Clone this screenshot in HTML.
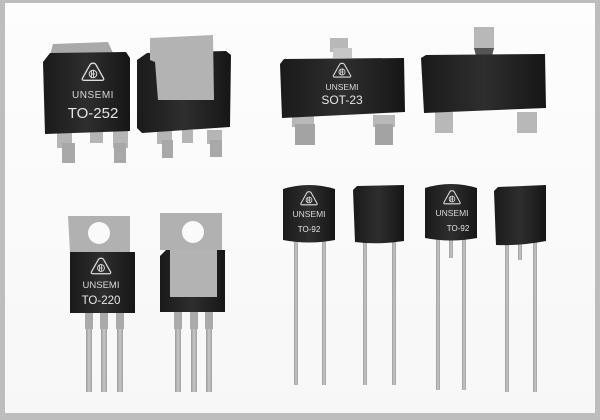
<!DOCTYPE html>
<html><head><meta charset="utf-8"><style>
html,body{margin:0;padding:0;background:#bdbdbd}
svg{display:block}
</style></head><body>
<svg width="600" height="420" viewBox="0 0 600 420" xmlns="http://www.w3.org/2000/svg" font-family="Liberation Sans, sans-serif">
<defs>
<linearGradient id="bg" x1="0" y1="0" x2="0" y2="1"><stop offset="0" stop-color="#fdfdfd"/><stop offset="1" stop-color="#f7f7f7"/></linearGradient>
<linearGradient id="blk" x1="0" y1="0" x2="1" y2="0"><stop offset="0" stop-color="#1a1a1a"/><stop offset="0.5" stop-color="#2e2e2e"/><stop offset="1" stop-color="#161616"/></linearGradient>
<linearGradient id="lead" x1="0" y1="0" x2="1" y2="0"><stop offset="0" stop-color="#9a9a9a"/><stop offset="0.5" stop-color="#c8c8c8"/><stop offset="1" stop-color="#a0a0a0"/></linearGradient>
<g id="logo">
<path d="M0,-10 Q1.5,-11 3,-8.5 L10,4 Q11,6 8.5,6 L-8.5,6 Q-11,6 -10,4 L-3,-8.5 Q-1.5,-11 0,-10Z" fill="none" stroke="#ddd" stroke-width="1.3"/>
<circle cx="0" cy="0" r="3.6" fill="none" stroke="#ddd" stroke-width="1"/>
<path d="M-1.5,-3.5 V3 M-1.5,0 H2 M0.5,-4 V3" stroke="#ddd" stroke-width="0.9"/>
</g>
</defs>
<rect x="5" y="3" width="590" height="410" fill="url(#bg)"/>

<!-- TO-252 front -->
<path d="M50,55 L53,44 L108,42 L113,53 Z" fill="#a9a9a9"/>
<rect x="57" y="130" width="15" height="18" fill="#b5b5b5"/>
<rect x="62" y="143" width="13" height="20" fill="#a8a8a8"/>
<rect x="90" y="130" width="13" height="13" fill="#b5b5b5"/>
<rect x="113" y="130" width="15" height="18" fill="#b5b5b5"/>
<rect x="114" y="143" width="12" height="20" fill="#a8a8a8"/>
<path d="M43,62 L50,53 L126,52 L130,58 L130,131 L45,134 Z" fill="url(#blk)"/>
<use href="#logo" transform="translate(93,74) scale(1.05)"/>
<text x="93" y="98" font-size="10" fill="#d8d8d8" text-anchor="middle" letter-spacing="0.5">UNSEMI</text>
<text x="93" y="118" font-size="15" fill="#e6e6e6" text-anchor="middle">TO-252</text>

<!-- TO-252 back -->
<rect x="157" y="130" width="15" height="14" fill="#b5b5b5"/>
<rect x="162" y="140" width="11" height="18" fill="#a8a8a8"/>
<rect x="182" y="130" width="11" height="13" fill="#b5b5b5"/>
<rect x="207" y="130" width="15" height="14" fill="#b5b5b5"/>
<rect x="210" y="140" width="12" height="17" fill="#a8a8a8"/>
<path d="M137,60 L147,53 L226,51 L231,55 L230,127 L142,133 L137,128 Z" fill="url(#blk)"/>
<path d="M150,38 L213,35 L214,100 L158,100 L155,62 L150,60 Z" fill="#b3b3b3"/>

<!-- SOT-23 front -->
<rect x="330" y="38" width="18" height="14" fill="#b8b8b8"/>
<rect x="333" y="48" width="19" height="10" fill="#c6c6c6"/>
<rect x="292" y="115" width="22" height="12" fill="#b8b8b8"/>
<rect x="295" y="124" width="20" height="21" fill="#a3a3a3"/>
<rect x="373" y="115" width="22" height="12" fill="#b8b8b8"/>
<rect x="375" y="124" width="18" height="21" fill="#a3a3a3"/>
<path d="M280,64 L284,59 L404,58 L405,112 L282,118 Z" fill="url(#blk)"/>
<use href="#logo" transform="translate(342,72) scale(0.85)"/>
<text x="342" y="90" font-size="8.5" fill="#d8d8d8" text-anchor="middle">UNSEMI</text>
<text x="342" y="104" font-size="12" fill="#e6e6e6" text-anchor="middle">SOT-23</text>

<!-- SOT-23 back -->
<rect x="474" y="27" width="20" height="22" fill="#b8b8b8"/>
<path d="M474,48 L494,48 L492,56 L476,56Z" fill="#555"/>
<rect x="435" y="112" width="18" height="21" fill="#b8b8b8"/>
<rect x="517" y="112" width="20" height="21" fill="#b8b8b8"/>
<path d="M421,58 L426,55 L545,54 L546,108 L424,113 Z" fill="url(#blk)"/>

<!-- TO-220 front -->
<path d="M68,216 L130,216 L130,252 L70,252 Z" fill="#b1b1b1"/>
<circle cx="99" cy="233" r="11" fill="#fafafa"/>
<rect x="85" y="305" width="8" height="24" fill="#aaa"/>
<rect x="86" y="329" width="6" height="63" fill="url(#lead)"/>
<rect x="100" y="305" width="8" height="24" fill="#aaa"/>
<rect x="101" y="329" width="6" height="63" fill="url(#lead)"/>
<rect x="116" y="305" width="8" height="24" fill="#aaa"/>
<rect x="117" y="329" width="6" height="63" fill="url(#lead)"/>
<rect x="70" y="252" width="65" height="61" fill="url(#blk)"/>
<use href="#logo" transform="translate(101,268) scale(0.95)"/>
<text x="101" y="288" font-size="9.5" fill="#d8d8d8" text-anchor="middle">UNSEMI</text>
<text x="101" y="304" font-size="11.5" fill="#e6e6e6" text-anchor="middle">TO-220</text>

<!-- TO-220 back -->
<path d="M160,213 L222,213 L222,250 L160,250 Z" fill="#b1b1b1"/>
<circle cx="193" cy="232" r="11" fill="#fafafa"/>
<rect x="174" y="305" width="8" height="24" fill="#aaa"/>
<rect x="175" y="329" width="6" height="63" fill="url(#lead)"/>
<rect x="190" y="305" width="8" height="24" fill="#aaa"/>
<rect x="191" y="329" width="6" height="63" fill="url(#lead)"/>
<rect x="205" y="305" width="8" height="24" fill="#aaa"/>
<rect x="206" y="329" width="6" height="63" fill="url(#lead)"/>
<path d="M160,256 L166,250 L225,250 L225,312 L160,312 Z" fill="url(#blk)"/>
<rect x="170" y="250" width="47" height="47" fill="#b3b3b3"/>

<!-- TO-92 #1 -->
<rect x="294" y="240" width="4" height="145" fill="url(#lead)"/>
<rect x="322" y="240" width="4" height="145" fill="url(#lead)"/>
<path d="M283,189 Q309,181 335,189 L335,240 Q309,245 283,240 Z" fill="url(#blk)"/>
<use href="#logo" transform="translate(309,200) scale(0.8)"/>
<text x="309" y="217" font-size="8.5" fill="#d8d8d8" text-anchor="middle">UNSEMI</text>
<text x="309" y="232" font-size="8" fill="#e6e6e6" text-anchor="middle">TO-92</text>

<!-- TO-92 #2 -->
<rect x="363" y="240" width="4" height="145" fill="url(#lead)"/>
<rect x="392" y="240" width="4" height="145" fill="url(#lead)"/>
<path d="M353,190 L357,186 L404,185 L404,241 Q378,245 355,242 Z" fill="url(#blk)"/>

<!-- TO-92 #3 -->
<rect x="436" y="238" width="4" height="152" fill="url(#lead)"/>
<rect x="449" y="238" width="4" height="20" fill="url(#lead)"/>
<rect x="462" y="238" width="4" height="152" fill="url(#lead)"/>
<path d="M425,188 Q451,180 477,188 L477,238 Q451,243 425,238 Z" fill="url(#blk)"/>
<use href="#logo" transform="translate(452,199) scale(0.8)"/>
<text x="452" y="216" font-size="8.5" fill="#d8d8d8" text-anchor="middle">UNSEMI</text>
<text x="458" y="231" font-size="8" fill="#e6e6e6" text-anchor="middle">TO-92</text>

<!-- TO-92 #4 -->
<rect x="505" y="242" width="4" height="150" fill="url(#lead)"/>
<rect x="518" y="242" width="4" height="18" fill="url(#lead)"/>
<rect x="533" y="242" width="4" height="150" fill="url(#lead)"/>
<path d="M494,191 L498,187 L546,185 L546,241 Q520,246 496,245 Z" fill="url(#blk)"/>
</svg>
</body></html>
